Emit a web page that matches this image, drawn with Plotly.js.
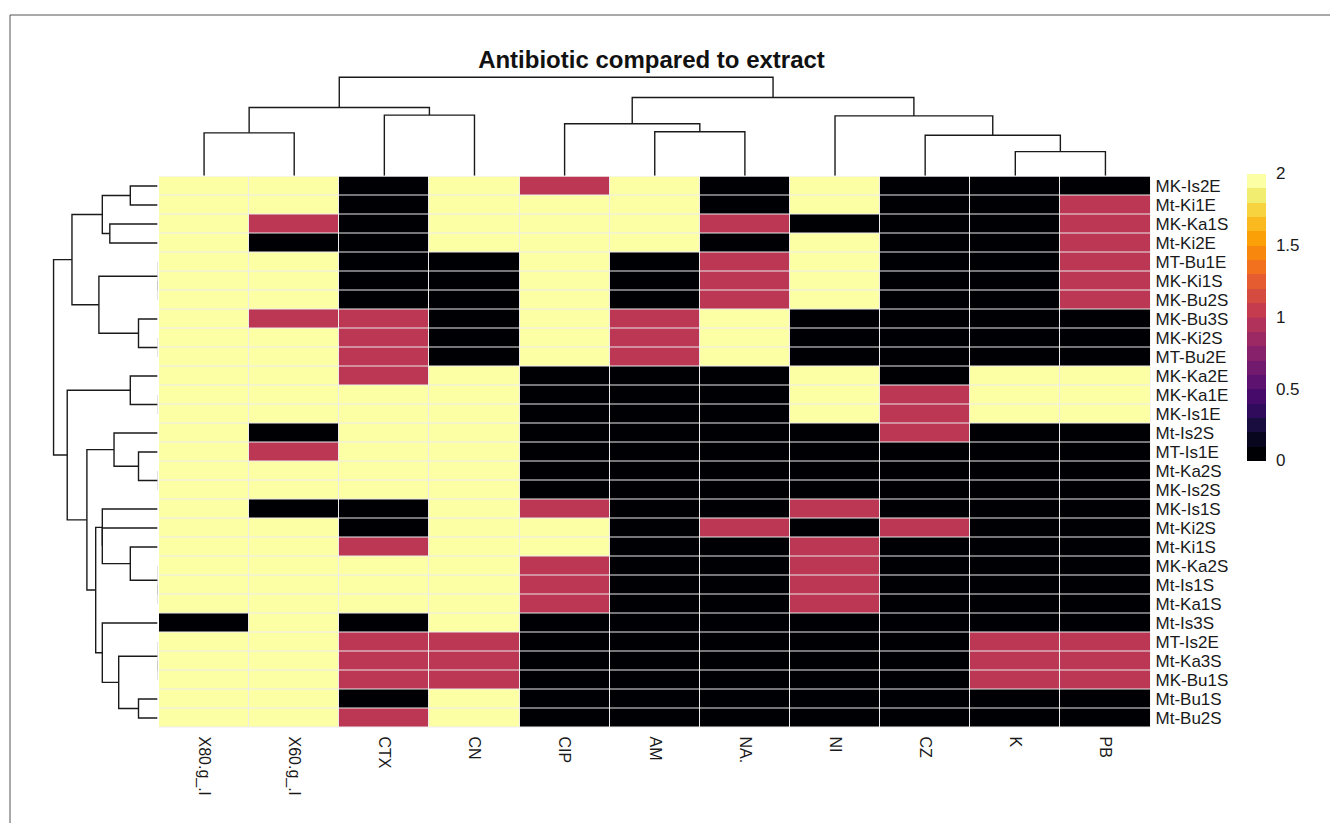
<!DOCTYPE html>
<html>
<head>
<meta charset="utf-8">
<script src="https://cdn.plot.ly/plotly-3.0.1.min.js"></script>
<style>
  html, body { margin: 0; padding: 0; background: #ffffff; }
  #chart { width: 1330px; height: 823px; }
</style>
</head>
<body>
<div id="chart"></div>
<script>
// Column labels (antibiotics / extract concentrations), left to right
const antibiotics = ['X80.g_.l', 'X60.g_.l', 'CTX', 'CN', 'CIP', 'AM', 'NA.', 'NI', 'CZ', 'K', 'PB'];

// Row labels (isolates), top to bottom
const isolates = ['MK-Is2E', 'Mt-Ki1E', 'MK-Ka1S', 'Mt-Ki2E', 'MT-Bu1E', 'MK-Ki1S', 'MK-Bu2S',
  'MK-Bu3S', 'MK-Ki2S', 'MT-Bu2E', 'MK-Ka2E', 'MK-Ka1E', 'MK-Is1E', 'Mt-Is2S', 'MT-Is1E',
  'Mt-Ka2S', 'MK-Is2S', 'MK-Is1S', 'Mt-Ki2S', 'Mt-Ki1S', 'MK-Ka2S', 'Mt-Is1S', 'Mt-Ka1S',
  'Mt-Is3S', 'MT-Is2E', 'Mt-Ka3S', 'MK-Bu1S', 'Mt-Bu1S', 'Mt-Bu2S'];

// Response score per isolate (same order as isolates), one array per column
const x80 = [2,2,2,2,2,2,2,2,2,2,2,2,2,2,2,2,2,2,2,2,2,2,2,0,2,2,2,2,2];
const x60 = [2,2,1,0,2,2,2,1,2,2,2,2,2,0,1,2,2,0,2,2,2,2,2,2,2,2,2,2,2];
const ctx = [0,0,0,0,0,0,0,1,1,1,1,2,2,2,2,2,2,0,0,1,2,2,2,0,1,1,1,0,1];
const cn  = [2,2,2,2,0,0,0,0,0,0,2,2,2,2,2,2,2,2,2,2,2,2,2,2,1,1,1,2,2];
const cip = [1,2,2,2,2,2,2,2,2,2,0,0,0,0,0,0,0,1,2,2,1,1,1,0,0,0,0,0,0];
const am  = [2,2,2,2,0,0,0,1,1,1,0,0,0,0,0,0,0,0,0,0,0,0,0,0,0,0,0,0,0];
const na  = [0,0,1,0,1,1,1,2,2,2,0,0,0,0,0,0,0,0,1,0,0,0,0,0,0,0,0,0,0];
const ni  = [2,2,0,2,2,2,2,0,0,0,2,2,2,0,0,0,0,1,0,1,1,1,1,0,0,0,0,0,0];
const cz  = [0,0,0,0,0,0,0,0,0,0,0,1,1,1,0,0,0,0,1,0,0,0,0,0,0,0,0,0,0];
const k   = [0,0,0,0,0,0,0,0,0,0,2,2,2,0,0,0,0,0,0,0,0,0,0,0,1,1,1,0,0];
const pb  = [0,1,1,1,1,1,1,0,0,0,2,2,2,0,0,0,0,0,0,0,0,0,0,0,1,1,1,0,0];
const columns = [x80, x60, ctx, cn, cip, am, na, ni, cz, k, pb];

// Row clustering: merge steps (negative = leaf index, positive = earlier step) and heights
const rowMergeA = [-6, -5, -9, -8, -1, -3, 5, 2, 7, -12, -11, -16, -15, -14, -22, -21, -20, -19, -18, -26, -25, -28, 21, -24, 19, 14, 11, 9];
const rowMergeB = [-7,  1, -10, 3, -2, -4, 6, 4, 8, -13,  10, -17,  12,  13, -23,  15,  16,  17,  18, -27,  20, -29, 22,  23, 24, 25, 26, 27];
const rowMergeH = [0, 0, 0, 1.0, 1.414, 2.449, 2.828, 3.0, 4.36, 0, 1.414, 0, 1.0, 2.236, 0, 0, 1.414, 2.828, 2.828, 0, 0, 1.0, 2.0, 2.828, 3.162, 3.606, 4.6, 5.29];

// Column clustering
const colMergeA = [-1, -3, 1, -6, -5, -10, -9, -8, 5, 3];
const colMergeB = [-2, -4, 2, -7,  4, -11,  6,  7, 8, 9];
const colMergeH = [4.36, 6.16, 6.93, 4.47, 5.29, 2.449, 4.12, 6.08, 7.94, 10.0];

// Stepped inferno palette for the colour key
const inferno20 = ['#000004', '#08051E', '#190C3E', '#300A5B', '#460B6A', '#5C126E', '#711A6E',
  '#87216B', '#9C2964', '#B1325A', '#C43C4E', '#D64B40', '#E55C30', '#F1711F', '#F8870E',
  '#FCA007', '#FAB91F', '#F7D340', '#F1ED71', '#FCFFA4'];
const midColour = '#BB3754';

function steppedScale(cols) {
  const n = cols.length, out = [];
  const eps = 0.0015;
  for (let i = 0; i < n; i++) {
    let lo = i / n, hi = (i + 1) / n;
    if (i === n / 2) lo += eps;
    if (i === n / 2 - 1) hi -= eps;
    out.push([lo, cols[i]], [hi, cols[i]]);
    if (i === n / 2 - 1) out.push([hi, midColour], [0.5 + eps, midColour]);
  }
  return out;
}

// Build elbow segments for a dendrogram from its merge list
function dendroLines(A, B, H, horizontal) {
  const pos = [], hgt = [];
  const p = c => c < 0 ? (-c - 1) : pos[c - 1];
  const h = c => c < 0 ? 0 : hgt[c - 1];
  const lx = [], ly = [];
  for (let i = 0; i < A.length; i++) {
    const pa = p(A[i]), pb = p(B[i]), ha = h(A[i]), hb = h(B[i]), hm = H[i];
    const leafPos = [pa, pa, pb, pb], heights = [ha, hm, hm, hb];
    for (let j = 0; j < 4; j++) {
      if (horizontal) { lx.push(heights[j]); ly.push(leafPos[j]); }
      else { lx.push(leafPos[j]); ly.push(heights[j]); }
    }
    lx.push(null); ly.push(null);
    pos.push((pa + pb) / 2);
    hgt.push(hm);
  }
  return { x: lx, y: ly };
}

const z = isolates.map((_, r) => columns.map(col => col[r]));

const W = 1330, Hh = 823;
const px = v => v / W;
const py = v => 1 - v / Hh;

const font = 'Liberation Sans, Arial, sans-serif';
const textColour = '#1a1a1a';

const heat = {
  type: 'heatmap',
  x: antibiotics, y: isolates, z: z,
  zmin: 0, zmax: 2,
  colorscale: steppedScale(inferno20),
  xgap: 1, ygap: 1,
  hoverongaps: false,
  colorbar: {
    x: px(1247), xanchor: 'left',
    y: py(317), yanchor: 'middle',
    len: 287, lenmode: 'pixels',
    thickness: 19, thicknessmode: 'pixels',
    outlinewidth: 0, xpad: 0, ypad: 0,
    tickvals: [0, 0.5, 1, 1.5, 2], ticktext: ['0', '0.5', '1', '1.5', '2'],
    ticks: 'outside', ticklen: 7, tickcolor: 'rgba(0,0,0,0)',
    tickfont: { family: font, size: 17, color: textColour }
  }
};

const colTree = dendroLines(colMergeA, colMergeB, colMergeH, false);
const rowTree = dendroLines(rowMergeA, rowMergeB, rowMergeH, true);
const treeLine = { color: '#1a1a1a', width: 1.4 };

const topDendro = {
  type: 'scatter', mode: 'lines', x: colTree.x, y: colTree.y,
  xaxis: 'x2', yaxis: 'y2', line: treeLine, hoverinfo: 'skip', showlegend: false
};
const leftDendro = {
  type: 'scatter', mode: 'lines', x: rowTree.x, y: rowTree.y,
  xaxis: 'x3', yaxis: 'y3', line: treeLine, hoverinfo: 'skip', showlegend: false
};

const heatX = [px(159), px(1150.5)];
const heatY = [py(727.5), py(176.5)];
const hidden = { visible: false, fixedrange: true };

// dendrogram scales (pixels per unit of height) and leaf edges
const rowScale = 19.8, rowEdge = 158.3, rowTop = 5.5, rowCut = 0.05;
const colScale = 9.853, colEdge = 175.8, colTop = 10.4;

const layout = {
  width: W, height: Hh,
  margin: { l: 0, r: 0, t: 0, b: 0 },
  paper_bgcolor: '#ffffff', plot_bgcolor: '#ffffff',
  showlegend: false,
  title: {
    text: 'Antibiotic compared to extract',
    font: { family: font, size: 24, weight: 'bold', color: '#111111' },
    x: px(651.5), xanchor: 'center', xref: 'paper',
    y: py(60), yanchor: 'middle', yref: 'paper'
  },
  xaxis: {
    domain: heatX, anchor: 'y',
    type: 'category', categoryorder: 'array', categoryarray: antibiotics,
    tickmode: 'array', tickvals: antibiotics, ticktext: antibiotics,
    range: [-0.5, antibiotics.length - 0.5],
    tickangle: 90, ticks: '', showgrid: false, zeroline: false, showline: false,
    ticklabelstandoff: 8,
    tickfont: { family: font, size: 16, color: textColour }, fixedrange: true
  },
  yaxis: {
    domain: heatY, anchor: 'x', side: 'right',
    type: 'category', categoryorder: 'array', categoryarray: isolates,
    tickmode: 'array', tickvals: isolates, ticktext: isolates,
    range: [isolates.length - 0.5, -0.5],
    ticks: '', showgrid: false, zeroline: false, showline: false,
    ticklabelstandoff: 4,
    tickfont: { family: font, size: 17, color: textColour }, fixedrange: true
  },
  xaxis2: Object.assign({ domain: heatX, anchor: 'y2', range: [-0.5, antibiotics.length - 0.5] }, hidden),
  yaxis2: Object.assign({ domain: [py(colEdge), py(colEdge - colTop * colScale)], anchor: 'x2', range: [0, colTop] }, hidden),
  xaxis3: Object.assign({ domain: [px(rowEdge - rowTop * rowScale), px(rowEdge - rowCut * rowScale)], anchor: 'y3', range: [rowTop, rowCut] }, hidden),
  yaxis3: Object.assign({ domain: heatY, anchor: 'x3', range: [isolates.length - 0.5, -0.5] }, hidden),
  shapes: [
    { type: 'rect', xref: 'x domain', yref: 'y domain', x0: 0, x1: 1, y0: 0, y1: 1,
      fillcolor: '#ececec', line: { width: 0 }, layer: 'below' },
    { type: 'rect', xref: 'paper', yref: 'paper', x0: px(10), x1: 1.2, y0: -0.2, y1: py(15),
      fillcolor: 'rgba(0,0,0,0)', line: { color: '#555555', width: 1 } }
  ]
};

Plotly.newPlot('chart', [heat, topDendro, leftDendro], layout, { displayModeBar: false, staticPlot: true });
</script>
</body>
</html>
